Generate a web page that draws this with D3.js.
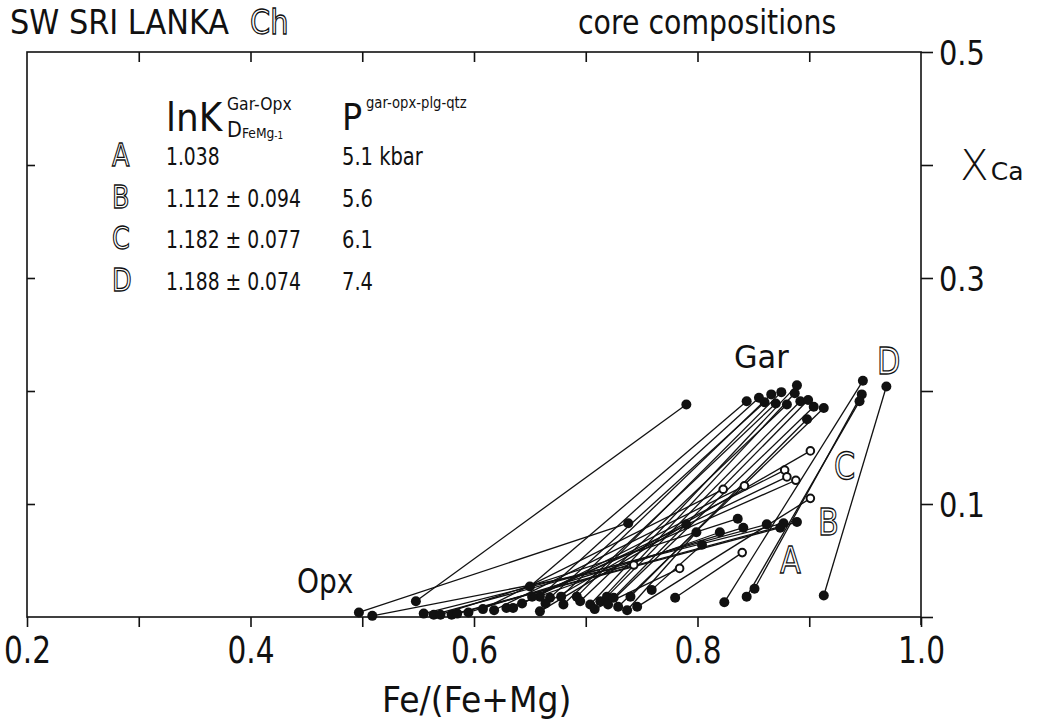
<!DOCTYPE html>
<html>
<head>
<meta charset="utf-8">
<script src="https://cdn.jsdelivr.net/npm/d3@7"></script>
<style>
  html, body { margin: 0; padding: 0; background: #fff; }
  svg { display: block; font-family: "DejaVu Sans", "Liberation Sans", sans-serif; }
</style>
</head>
<body>
<svg id="chart" width="1051" height="724"></svg>
<script>
// Orthopyroxene end of each garnet–opx tie line
const opxFe = [0.497, 0.509, 0.548, 0.650, 0.659, 0.668, 0.678, 0.680, 0.692, 0.695,
               0.704, 0.713, 0.719, 0.725, 0.720, 0.729, 0.740, 0.824, 0.851, 0.844,
               0.913, 0.780, 0.555, 0.564, 0.570, 0.580, 0.585, 0.595, 0.608, 0.618,
               0.629, 0.635, 0.643, 0.652, 0.659, 0.664, 0.746, 0.737, 0.759, 0.708];
const opxCa = [0.004, 0.001, 0.014, 0.027, 0.018, 0.017, 0.018, 0.011, 0.018, 0.014,
               0.011, 0.014, 0.018, 0.017, 0.011, 0.009, 0.018, 0.013, 0.025, 0.018,
               0.019, 0.017, 0.003, 0.002, 0.002, 0.002, 0.003, 0.004, 0.007, 0.006,
               0.008, 0.008, 0.012, 0.018, 0.005, 0.012, 0.009, 0.006, 0.024, 0.007];
// Garnet end of each tie line
const garFe = [0.738, 0.743, 0.790, 0.844, 0.855, 0.860, 0.866, 0.870, 0.875, 0.880,
               0.889, 0.887, 0.892, 0.899, 0.904, 0.913, 0.898, 0.948, 0.947, 0.945,
               0.969, 0.840, 0.877, 0.862, 0.836, 0.889, 0.874, 0.841, 0.823, 0.842,
               0.820, 0.878, 0.880, 0.888, 0.790, 0.901, 0.901, 0.799, 0.804, 0.784];
const garCa = [0.083, 0.046, 0.188, 0.191, 0.194, 0.190, 0.197, 0.189, 0.199, 0.188,
               0.205, 0.198, 0.191, 0.192, 0.186, 0.185, 0.175, 0.209, 0.197, 0.191,
               0.204, 0.057, 0.083, 0.082, 0.087, 0.084, 0.079, 0.079, 0.113, 0.116,
               0.075, 0.130, 0.124, 0.121, 0.082, 0.147, 0.105, 0.075, 0.064, 0.043];
// 1 = garnet drawn as an open circle, 0 = filled
const garOpen = [0, 1, 0, 0, 0, 0, 0, 0, 0, 0,
                 0, 0, 0, 0, 0, 0, 0, 0, 0, 0,
                 0, 1, 0, 0, 0, 0, 0, 0, 1, 1,
                 0, 1, 1, 1, 0, 1, 1, 0, 0, 1];

const xTicks = [0.2, 0.3, 0.4, 0.5, 0.6, 0.7, 0.8, 0.9, 1.0];
const xTickLabels = ["0.2", "", "0.4", "", "0.6", "", "0.8", "", "1.0"];
const yTicks = [0, 0.1, 0.2, 0.3, 0.4, 0.5];
const yTickLabels = ["", "0.1", "", "0.3", "", "0.5"];

// Legend table
const legendKeys = ["A", "B", "C", "D"];
const legendLnK = ["1.038", "1.112 ± 0.094", "1.182 ± 0.077", "1.188 ± 0.074"];
const legendP = ["5.1 kbar", "5.6", "6.1", "7.4"];

const svg = d3.select("#chart");
const plot = { left: 27, right: 921, top: 52, bottom: 617 };

const x = d3.scaleLinear().domain([0.2, 1.0]).range([plot.left, plot.right]);
const y = d3.scaleLinear().domain([0, 0.5]).range([plot.bottom, plot.top]);

const ink = "#111";

// text narrowed horizontally to a stencil-lettering proportion
function label(parent, px, py, txt, size, k, anchor) {
  return parent.append("text")
    .attr("transform", `translate(${px},${py}) scale(${k},1)`)
    .attr("text-anchor", anchor || "start")
    .attr("font-size", size).attr("fill", ink).text(txt);
}
function outlined(parent, px, py, txt, size, k) {
  return label(parent, px, py, txt, size, k)
    .attr("fill", "#fff").attr("stroke", ink).attr("stroke-width", 1.3);
}

// ---- frame and axes ----
svg.append("rect")
  .attr("x", plot.left).attr("y", plot.top)
  .attr("width", plot.right - plot.left).attr("height", plot.bottom - plot.top)
  .attr("fill", "none").attr("stroke", ink).attr("stroke-width", 1.6);

function styleAxis(g, fontSize) {
  g.select(".domain").remove();
  g.selectAll(".tick line").attr("stroke", ink).attr("stroke-width", 1.6);
  g.selectAll(".tick text").attr("fill", ink).attr("font-size", fontSize)
    .attr("font-family", "\"DejaVu Sans\", sans-serif");
}

// bottom axis: outward ticks, labelled every 0.2
const xb = svg.append("g").attr("transform", `translate(0,${plot.bottom})`)
  .call(d3.axisBottom(x).tickValues(xTicks).tickSize(10).tickSizeOuter(0)
    .tickPadding(10).tickFormat((d, i) => xTickLabels[i]));
styleAxis(xb, 37);
xb.selectAll(".tick text").attr("transform", "scale(0.8,1)");

// top edge: inward ticks, no labels
const xt = svg.append("g").attr("transform", `translate(0,${plot.top})`)
  .call(d3.axisBottom(x).tickValues(xTicks.slice(1, -1)).tickSize(10).tickSizeOuter(0).tickFormat(""));
styleAxis(xt, 0);

// right axis: outward ticks, XCa labels
const kR = 0.85;
const yr = svg.append("g").attr("transform", `translate(${plot.right},0)`)
  .call(d3.axisRight(y).tickValues(yTicks).tickSize(12).tickSizeOuter(0)
    .tickPadding(6).tickFormat((d, i) => yTickLabels[i]));
styleAxis(yr, 34);
yr.selectAll(".tick text")
  .attr("x", 18 / kR).attr("dy", "0.36em").attr("transform", `scale(${kR},1)`);

// left edge: inward ticks, no labels
const yl = svg.append("g").attr("transform", `translate(${plot.left},0)`)
  .call(d3.axisRight(y).tickValues(yTicks.slice(1, -1)).tickSize(8).tickSizeOuter(0).tickFormat(""));
styleAxis(yl, 0);

// short extension of the right axis below the base line
svg.append("line")
  .attr("x1", plot.right).attr("x2", plot.right)
  .attr("y1", plot.bottom).attr("y2", plot.bottom + 8)
  .attr("stroke", ink).attr("stroke-width", 1.6);

// axis titles
label(svg, 382, 712, "Fe/(Fe+Mg)", 36, 0.92);

const xca = svg.append("text").attr("x", 960).attr("y", 180).attr("fill", ink);
xca.append("tspan").attr("font-size", 42).attr("font-weight", 200).text("X");
xca.append("tspan").attr("font-size", 25).attr("dx", 2).text("Ca");

// ---- header ----
label(svg, 10, 34, "SW SRI LANKA", 33, 0.92);
outlined(svg, 250, 34, "Ch", 34, 0.85);
label(svg, 578, 34, "core compositions", 33, 0.86);

// ---- tie lines ----
const pairs = opxFe.map((d, i) => ({
  ox: opxFe[i], oy: opxCa[i], gx: garFe[i], gy: garCa[i], open: garOpen[i] === 1
}));

const plotG = svg.append("g");
plotG.selectAll("line.tie").data(pairs).join("line")
  .attr("class", "tie")
  .attr("x1", d => x(d.ox)).attr("y1", d => y(d.oy))
  .attr("x2", d => x(d.gx)).attr("y2", d => y(d.gy))
  .attr("stroke", ink).attr("stroke-width", 1.3);

// opx points
plotG.selectAll("circle.opx").data(pairs).join("circle")
  .attr("class", "opx")
  .attr("cx", d => x(d.ox)).attr("cy", d => y(d.oy)).attr("r", 5)
  .attr("fill", ink);

// garnet points
plotG.selectAll("circle.gar").data(pairs).join("circle")
  .attr("class", "gar")
  .attr("cx", d => x(d.gx)).attr("cy", d => y(d.gy))
  .attr("r", d => d.open ? 3.8 : 5)
  .attr("fill", d => d.open ? "#fff" : ink)
  .attr("stroke", ink).attr("stroke-width", d => d.open ? 2 : 0);

// phase labels
label(svg, 734, 368, "Gar", 32, 0.95);
label(svg, 297, 593, "Opx", 33, 0.85);

// outlined group letters beside their tie lines
outlined(svg, 877, 374, "D", 38, 0.8);
outlined(svg, 834, 479, "C", 38, 0.8);
outlined(svg, 818, 535, "B", 38, 0.8);
outlined(svg, 780, 573, "A", 38, 0.8);

// ---- legend ----
const lg = svg.append("g");
label(lg, 166, 131, "lnK", 39, 0.92);
label(lg, 227, 110, "Gar-Opx", 17, 0.92);
const sub = label(lg, 227, 137, "", 22, 0.88);
sub.append("tspan").text("D");
sub.append("tspan").attr("font-size", 14).attr("dy", 1).text("FeMg");
sub.append("tspan").attr("font-size", 10).attr("dy", 1).text("-1");

label(lg, 342, 130, "P", 38, 0.88);
label(lg, 366, 108, "gar-opx-plg-qtz", 15, 0.88);

const rowY = [165, 207, 248, 290];
legendKeys.forEach((k, i) => {
  outlined(lg, 112, rowY[i] + 1, k, 32, 0.8);
  label(lg, 166, rowY[i], legendLnK[i], 25, 0.75);
  label(lg, 342, rowY[i], legendP[i], 25, 0.78);
});
</script>
</body>
</html>
